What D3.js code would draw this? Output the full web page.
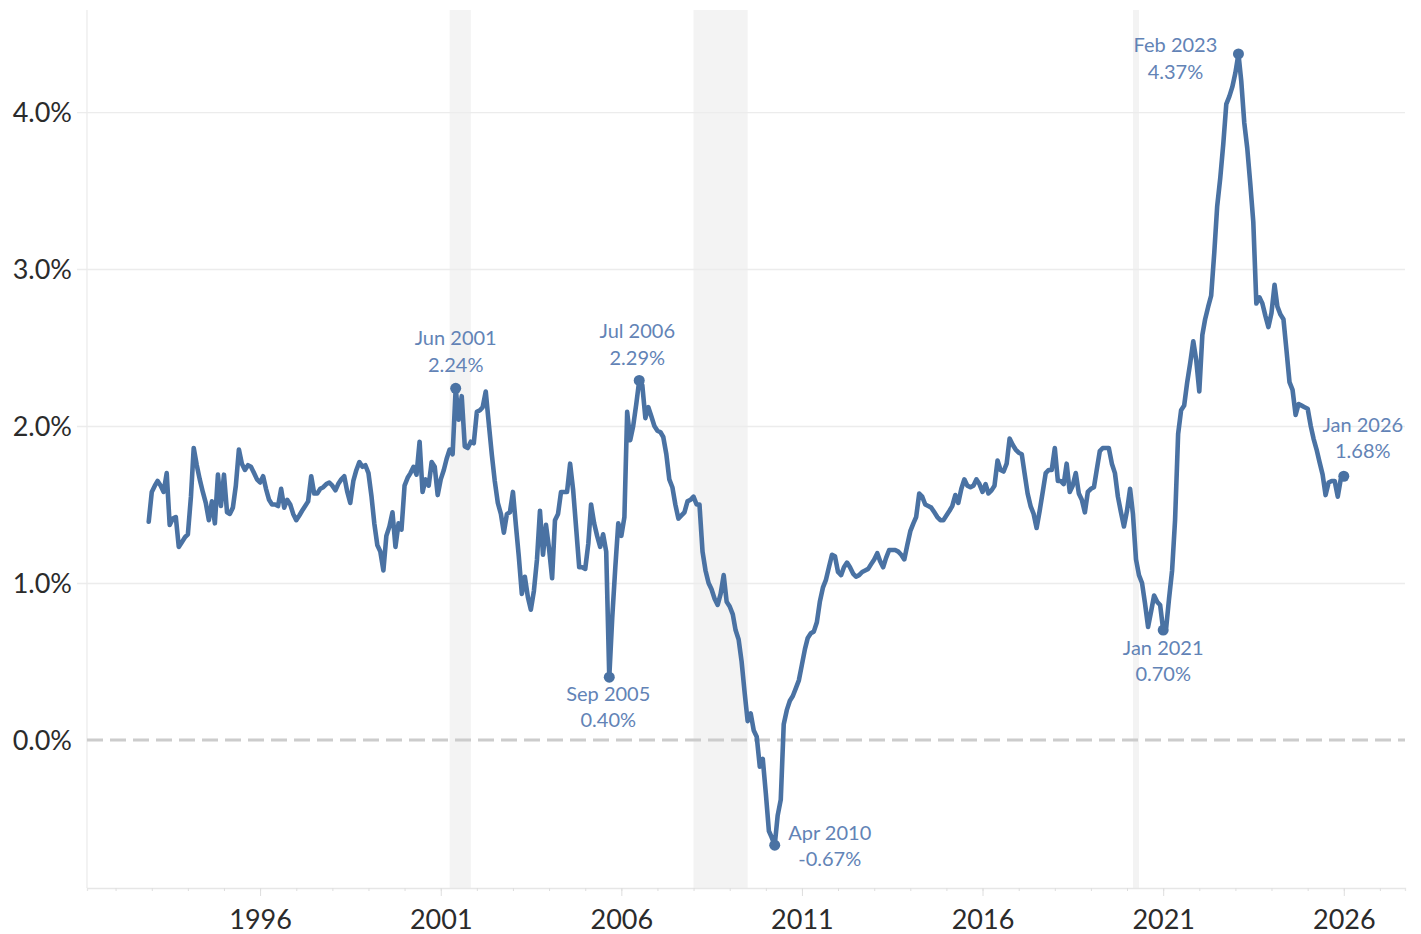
<!DOCTYPE html>
<html>
<head>
<meta charset="utf-8">
<script src="https://cdn.jsdelivr.net/npm/d3@7"></script>
<style>
  body { margin: 0; background: #fff; }
  text { font-family: Lato, "Open Sans", sans-serif; }
</style>
</head>
<body>
<div id="chart"></div>
<script>
// monthly series, first value is Dec 1992
var seriesStart = [1992, 11];
var seriesValues = [
  1.39,
  1.58, 1.62, 1.65, 1.62, 1.58, 1.70, 1.37, 1.41, 1.42, 1.23, 1.26, 1.29, // 1993
  1.31, 1.55, 1.86, 1.75, 1.66, 1.58, 1.51, 1.40, 1.52, 1.38, 1.69, 1.49, // 1994
  1.69, 1.45, 1.44, 1.48, 1.62, 1.85, 1.76, 1.72, 1.75, 1.74, 1.70, 1.66, // 1995
  1.64, 1.68, 1.60, 1.53, 1.50, 1.50, 1.49, 1.60, 1.48, 1.53, 1.50, 1.44, // 1996
  1.40, 1.43, 1.46, 1.49, 1.52, 1.68, 1.57, 1.57, 1.60, 1.61, 1.63, 1.64, // 1997
  1.62, 1.59, 1.63, 1.66, 1.68, 1.58, 1.51, 1.65, 1.72, 1.77, 1.74, 1.75, // 1998
  1.70, 1.55, 1.38, 1.24, 1.20, 1.08, 1.30, 1.36, 1.45, 1.23, 1.38, 1.34, // 1999
  1.62, 1.67, 1.70, 1.74, 1.69, 1.90, 1.58, 1.66, 1.62, 1.77, 1.74, 1.56, // 2000
  1.66, 1.72, 1.79, 1.85, 1.82, 2.24, 2.04, 2.19, 1.87, 1.86, 1.90, 1.89, // 2001
  2.09, 2.10, 2.12, 2.22, 2.02, 1.82, 1.65, 1.51, 1.44, 1.32, 1.44, 1.45, // 2002
  1.58, 1.36, 1.17, 0.93, 1.04, 0.91, 0.83, 0.95, 1.15, 1.46, 1.18, 1.37, // 2003
  1.22, 1.03, 1.40, 1.44, 1.58, 1.58, 1.58, 1.76, 1.59, 1.35, 1.10, 1.10, // 2004
  1.09, 1.25, 1.50, 1.38, 1.30, 1.23, 1.31, 1.20, 0.40, 0.78, 1.10, 1.38, // 2005
  1.30, 1.42, 2.09, 1.91, 2.00, 2.14, 2.29, 2.26, 2.05, 2.12, 2.06, 2.00, // 2006
  1.97, 1.96, 1.93, 1.82, 1.66, 1.61, 1.50, 1.41, 1.43, 1.45, 1.52, 1.53, // 2007
  1.55, 1.50, 1.50, 1.20, 1.08, 1.00, 0.96, 0.90, 0.86, 0.93, 1.05, 0.88, // 2008
  0.85, 0.80, 0.70, 0.64, 0.50, 0.30, 0.12, 0.17, 0.06, 0.02, -0.17, -0.12, // 2009
  -0.34, -0.58, -0.62, -0.67, -0.48, -0.38, 0.10, 0.19, 0.25, 0.28, 0.33, 0.38, // 2010
  0.48, 0.58, 0.65, 0.68, 0.69, 0.75, 0.88, 0.97, 1.02, 1.10, 1.18, 1.17, // 2011
  1.07, 1.05, 1.10, 1.13, 1.10, 1.06, 1.04, 1.05, 1.07, 1.08, 1.09, 1.12, // 2012
  1.15, 1.19, 1.14, 1.10, 1.16, 1.21, 1.21, 1.21, 1.20, 1.18, 1.15, 1.24, // 2013
  1.33, 1.38, 1.42, 1.57, 1.55, 1.50, 1.49, 1.48, 1.45, 1.42, 1.40, 1.40, // 2014
  1.43, 1.46, 1.49, 1.56, 1.51, 1.60, 1.66, 1.62, 1.61, 1.62, 1.66, 1.63, // 2015
  1.58, 1.63, 1.57, 1.59, 1.62, 1.78, 1.72, 1.71, 1.76, 1.92, 1.88, 1.85, // 2016
  1.83, 1.82, 1.70, 1.57, 1.49, 1.44, 1.35, 1.46, 1.58, 1.70, 1.72, 1.72, // 2017
  1.86, 1.65, 1.65, 1.63, 1.76, 1.58, 1.62, 1.70, 1.57, 1.53, 1.45, 1.58, // 2018
  1.60, 1.61, 1.72, 1.84, 1.86, 1.86, 1.86, 1.76, 1.70, 1.55, 1.45, 1.36, // 2019
  1.46, 1.60, 1.44, 1.15, 1.05, 1.00, 0.87, 0.72, 0.82, 0.92, 0.88, 0.86, // 2020
  0.70, 0.72, 0.90, 1.08, 1.40, 1.95, 2.10, 2.13, 2.28, 2.40, 2.54, 2.42, // 2021
  2.22, 2.58, 2.68, 2.76, 2.83, 3.10, 3.40, 3.58, 3.80, 4.05, 4.10, 4.16, // 2022
  4.25, 4.37, 4.20, 3.93, 3.77, 3.54, 3.30, 2.78, 2.82, 2.78, 2.70, 2.63, // 2023
  2.72, 2.90, 2.76, 2.71, 2.68, 2.48, 2.28, 2.23, 2.07, 2.14, 2.13, 2.12, // 2024
  2.11, 2.00, 1.92, 1.85, 1.77, 1.69, 1.56, 1.64, 1.65, 1.65, 1.55, 1.66, // 2025
  1.68
];

var highlightDates = ["2001-06", "2006-07", "2005-09", "2010-04", "2021-01", "2023-02", "2026-01"];
// label offsets from the dot: dx, first line dy, second line dy
var labelOffsets = [[0, -43, -16], [-2, -42, -15], [-1, 24, 50], [55, -5, 21], [0, 25, 51], [-63, -2, 25], [19, -44, -18]];

var recessions = [["2001-04-01", "2001-11-01"], ["2008-01-01", "2009-07-01"], ["2020-03-01", "2020-05-01"]];
var yTicks = [0, 1, 2, 3, 4];
var xTickYears = [1996, 2001, 2006, 2011, 2016, 2021, 2026];

var width = 1421,
    height = 934;
var plotLeft = 87, plotRight = 1405, plotTop = 10, plotBottom = 888;

var lineColor = "#4a72a3",
    labelColor = "#6283b6";

var data = seriesValues.map(function(v, i) {
  return {date: new Date(seriesStart[0], seriesStart[1] + i, 1), value: v};
});

var x = d3.scaleTime()
    .domain([new Date(1991, 2, 18), new Date(2027, 8, 12)])
    .range([plotLeft, plotRight]);
var y = d3.scaleLinear()
    .domain([-0.943, 4.65])
    .range([plotBottom, plotTop]);

var svg = d3.select("#chart").append("svg")
    .attr("width", width)
    .attr("height", height);

// recession bands
var parse = d3.timeParse("%Y-%m-%d");
svg.selectAll("rect.rec")
    .data(recessions)
    .enter().append("rect")
    .attr("class", "rec")
    .attr("x", function(d) { return x(parse(d[0])); })
    .attr("width", function(d) { return x(parse(d[1])) - x(parse(d[0])); })
    .attr("y", plotTop)
    .attr("height", plotBottom - plotTop)
    .attr("fill", "#f3f3f3");

// gridlines + y labels
var yAxis = svg.append("g")
    .attr("transform", "translate(" + plotLeft + ",0)")
    .call(d3.axisLeft(y).tickValues(yTicks).tickSize(-(plotRight - plotLeft)).tickPadding(15)
      .tickFormat(function(d) { return d3.format(".1f")(d) + "%"; }));
yAxis.select(".domain").remove();
yAxis.selectAll(".tick line")
    .attr("x1", -10)
    .attr("stroke", "#ececec")
    .attr("stroke-width", 1.3)
    .attr("opacity", function(d) { return d === 0 ? 0 : 1; });
yAxis.selectAll(".tick text")
    .attr("font-size", 27)
    .attr("fill", "#2b2b2b")
    .attr("dy", "0.36em");

// left frame line
svg.append("line")
    .attr("x1", plotLeft).attr("x2", plotLeft)
    .attr("y1", plotTop).attr("y2", plotBottom)
    .attr("stroke", "#ececec")
    .attr("stroke-width", 1.3);

// zero line
svg.append("line")
    .attr("x1", plotLeft).attr("x2", plotRight)
    .attr("y1", y(0)).attr("y2", y(0))
    .attr("stroke", "#cccccc")
    .attr("stroke-width", 3)
    .attr("stroke-dasharray", "16,7");

// x axis, minor ticks each year
var minor = svg.append("g")
    .attr("transform", "translate(0," + plotBottom + ")")
    .call(d3.axisBottom(x).ticks(d3.timeYear.every(1)).tickSize(3).tickFormat(""));
minor.select(".domain").attr("stroke", "#e6e6e6").attr("stroke-width", 1.3);
minor.selectAll(".tick line").attr("stroke", "#dedede");

var xAxis = svg.append("g")
    .attr("transform", "translate(0," + plotBottom + ")")
    .call(d3.axisBottom(x)
      .tickValues(xTickYears.map(function(yr) { return new Date(yr, 0, 1); }))
      .tickSize(8).tickPadding(14)
      .tickFormat(d3.timeFormat("%Y")));
xAxis.select(".domain").remove();
xAxis.selectAll(".tick line").attr("stroke", "#dedede");
xAxis.selectAll(".tick text")
    .attr("font-size", 27)
    .attr("fill", "#2b2b2b");

// the series
var line = d3.line()
    .x(function(d) { return x(d.date); })
    .y(function(d) { return y(d.value); })
    .curve(d3.curveLinear);

svg.append("path")
    .datum(data)
    .attr("fill", "none")
    .attr("stroke", lineColor)
    .attr("stroke-width", 4.6)
    .attr("stroke-linejoin", "round")
    .attr("stroke-linecap", "round")
    .attr("d", line);

// highlighted points
var fmtKey = d3.timeFormat("%Y-%m"),
    fmtLabel = d3.timeFormat("%b %Y");
var points = highlightDates.map(function(k, i) {
  var p = data.find(function(d) { return fmtKey(d.date) === k; });
  return {date: p.date, value: p.value, off: labelOffsets[i]};
});

var marks = svg.selectAll("g.mark")
    .data(points)
    .enter().append("g")
    .attr("class", "mark")
    .attr("transform", function(d) { return "translate(" + x(d.date) + "," + y(d.value) + ")"; });

marks.append("circle")
    .attr("r", 5.5)
    .attr("fill", lineColor);

marks.append("text")
    .attr("x", function(d) { return d.off[0]; })
    .attr("y", function(d) { return d.off[1]; })
    .attr("text-anchor", "middle")
    .attr("font-size", 20)
    .attr("fill", labelColor)
    .text(function(d) { return fmtLabel(d.date); });

marks.append("text")
    .attr("x", function(d) { return d.off[0]; })
    .attr("y", function(d) { return d.off[2]; })
    .attr("text-anchor", "middle")
    .attr("font-size", 20)
    .attr("fill", labelColor)
    .text(function(d) { return d.value.toFixed(2) + "%"; });
</script>
</body>
</html>
